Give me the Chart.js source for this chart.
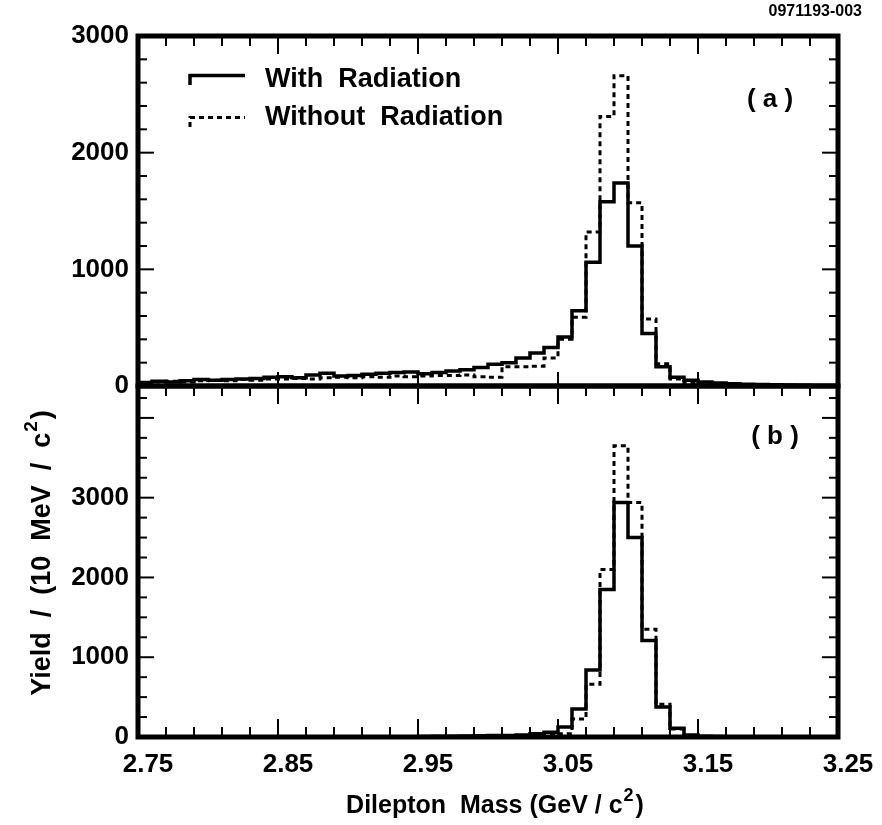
<!DOCTYPE html>
<html>
<head>
<meta charset="utf-8">
<script src="https://cdn.jsdelivr.net/npm/chart.js@4.4.1/dist/chart.umd.min.js"></script>
<style>
  html, body { margin: 0; padding: 0; background: #fff; }
  #wrap { position: relative; width: 882px; height: 825px; }
  #wrap canvas { position: absolute; left: 0; top: 0; }
</style>
</head>
<body>
<div id="wrap">
  <canvas id="panelA" width="882" height="825"></canvas>
  <canvas id="panelB" width="882" height="825"></canvas>
</div>
<script>
// bin lower edges (10 MeV bins), last bin ends at 3.25
const binEdges = [2.75, 2.76, 2.77, 2.78, 2.79, 2.80, 2.81, 2.82, 2.83, 2.84,
                  2.85, 2.86, 2.87, 2.88, 2.89, 2.90, 2.91, 2.92, 2.93, 2.94,
                  2.95, 2.96, 2.97, 2.98, 2.99, 3.00, 3.01, 3.02, 3.03, 3.04,
                  3.05, 3.06, 3.07, 3.08, 3.09, 3.10, 3.11, 3.12, 3.13, 3.14,
                  3.15, 3.16, 3.17, 3.18, 3.19, 3.20, 3.21, 3.22, 3.23, 3.24];
const massEnd = 3.25;
const massLabels = ['2.75', '2.85', '2.95', '3.05', '3.15', '3.25'];

// panel (a)
const withRadA = [30, 40, 35, 45, 55, 50, 55, 60, 65, 75,
                  80, 70, 95, 110, 85, 90, 100, 110, 115, 120,
                  105, 115, 128, 140, 158, 186, 200, 240, 283, 330,
                  420, 645, 1060, 1580, 1740, 1200, 450, 165, 75, 50,
                  35, 25, 20, 15, 12, 10, 8, 6, 5, 5];
const noRadA = [30, 35, 40, 35, 45, 50, 45, 55, 50, 60,
                60, 65, 60, 70, 75, 70, 80, 75, 85, 80,
                85, 90, 90, 95, 80, 75, 165, 165, 170, 240,
                400, 590, 1320, 2310, 2660, 1570, 575, 190, 60, 30,
                20, 15, 10, 8, 5, 5, 3, 2, 2, 2];

// panel (b)
const withRadB = [0, 0, 0, 0, 0, 0, 0, 0, 0, 0,
                  0, 0, 0, 0, 0, 0, 0, 0, 2, 3,
                  5, 8, 10, 12, 15, 18, 20, 25, 40, 60,
                  125, 350, 840, 1850, 2940, 2500, 1210, 375, 110, 25,
                  10, 5, 3, 2, 0, 0, 0, 0, 0, 0];
const noRadB = [0, 0, 0, 0, 0, 0, 0, 0, 0, 0,
                0, 0, 0, 0, 0, 0, 0, 0, 0, 0,
                0, 0, 2, 3, 4, 5, 5, 10, 15, 25,
                40, 225, 660, 2100, 3650, 2940, 1350, 410, 100, 20,
                5, 3, 0, 0, 0, 0, 0, 0, 0, 0];

const yMaxA = 3000, yStepA = 200;
const yMaxB = 4400, yStepB = 250;
const yLabelMax = 3000;

const FONT = '"Liberation Sans", Arial, sans-serif';

// tick positions on the mass axis: every 0.02, labelled every 0.1
const xTickVals = [];
for (let k = 0; k <= 25; k++) xTickVals.push(+(2.75 + 0.02 * k).toFixed(2));

function histPoints(vals) {
  const pts = binEdges.map((e, i) => ({ x: e, y: vals[i] }));
  pts.push({ x: massEnd, y: vals[vals.length - 1] });
  return pts;
}

function supText(ctx, main, sup, tail, cx, cy, size) {
  const supSize = Math.round(size * 0.7);
  ctx.font = 'bold ' + size + 'px ' + FONT;
  const w1 = ctx.measureText(main).width;
  const w3 = ctx.measureText(tail).width;
  ctx.font = 'bold ' + supSize + 'px ' + FONT;
  const w2 = ctx.measureText(sup).width;
  let x = cx - (w1 + w2 + w3 + 3) / 2;
  ctx.textAlign = 'left';
  ctx.textBaseline = 'alphabetic';
  ctx.font = 'bold ' + size + 'px ' + FONT;
  ctx.fillText(main, x, cy);
  x += w1;
  ctx.font = 'bold ' + supSize + 'px ' + FONT;
  ctx.fillText(sup, x + 1, cy - size * 0.5);
  x += w2 + 3;
  ctx.font = 'bold ' + size + 'px ' + FONT;
  ctx.fillText(tail, x, cy);
}

const framePlugin = {
  id: 'frame',
  afterDraw(chart, args, opts) {
    const { ctx, chartArea: { left, right, top, bottom } } = chart;
    const x = chart.scales.x, y = chart.scales.y;
    ctx.save();
    ctx.strokeStyle = '#000';
    ctx.fillStyle = '#000';
    ctx.lineCap = 'butt';
    ctx.lineWidth = 2;
    const seg = (x1, y1, x2, y2) => { ctx.beginPath(); ctx.moveTo(x1, y1); ctx.lineTo(x2, y2); ctx.stroke(); };

    xTickVals.forEach((v, k) => {
      const px = x.getPixelForValue(v);
      const major = k % 5 === 0;
      seg(px, top, px, top + (major ? 18 : 10));
      if (opts.bottomTicks === 'all') seg(px, bottom, px, bottom - (major ? 18 : 10));
      else if (major) seg(px, bottom, px, bottom - 14);
    });
    for (let v = 0; v <= y.max; v += opts.yStep) {
      const py = y.getPixelForValue(v);
      const major = v % 1000 === 0;
      const L = major ? 16 : 9;
      seg(left, py, left + L, py);
      seg(right, py, right - L, py);
    }
    ctx.lineWidth = 5;
    ctx.strokeRect(left, top, right - left, bottom - top);

    // panel tag
    ctx.font = 'bold 26px ' + FONT;
    ctx.textAlign = 'center';
    ctx.textBaseline = 'middle';
    ctx.fillText(opts.tag, opts.tagX, opts.tagY);

    if (opts.legend) {
      ctx.lineWidth = 3.5;
      seg(190, 85, 190, 74);
      seg(189, 75.5, 245, 75.5);
      ctx.lineWidth = 3;
      ctx.setLineDash([5, 4]);
      seg(190, 127, 190, 116);
      seg(190, 117.5, 245, 117.5);
      ctx.setLineDash([]);
      ctx.font = 'bold 27px ' + FONT;
      ctx.textAlign = 'left';
      ctx.fillText('With  Radiation', 265, 80);
      ctx.fillText('Without  Radiation', 265, 118);
      ctx.font = 'bold 16px ' + FONT;
      ctx.textAlign = 'right';
      ctx.fillText('0971193-003', 862, 12);
    }
    if (opts.titles) {
      ctx.fillStyle = '#000';
      supText(ctx, 'Dilepton  Mass (GeV / c', '2', ')', 495, 813, 25);
      ctx.save();
      ctx.translate(50, 553);
      ctx.rotate(-Math.PI / 2);
      supText(ctx, 'Yield  /  (10  MeV  /  c', '2', ')', 0, 0, 27);
      ctx.restore();
    }
    ctx.restore();
  }
};

function makePanel(id, withRad, noRad, yMax, yStep, isBottom, pluginOpts) {
  const yTicks = [];
  for (let v = 0; v <= yMax; v += yStep) yTicks.push(v);
  return new Chart(document.getElementById(id), {
    type: 'line',
    data: {
      datasets: [
        { label: 'With Radiation', data: histPoints(withRad), stepped: 'before',
          borderColor: '#000', borderWidth: 3.5, pointRadius: 0, fill: false },
        { label: 'Without Radiation', data: histPoints(noRad), stepped: 'before',
          borderColor: '#000', borderWidth: 3, borderDash: [5, 4], pointRadius: 0, fill: false }
      ]
    },
    options: {
      responsive: false,
      animation: false,
      devicePixelRatio: 1,
      layout: { padding: { top: isBottom ? 386 : 36, right: 44, bottom: isBottom ? 0 : 439, left: 0 } },
      plugins: { legend: { display: false }, tooltip: { enabled: false }, frame: pluginOpts },
      scales: {
        x: {
          type: 'linear', min: 2.75, max: 3.25, display: isBottom,
          grid: { display: false, drawTicks: false }, border: { display: false },
          afterBuildTicks: s => { s.ticks = xTickVals.map(v => ({ value: v })); },
          afterFit: s => { s.height = isBottom ? 88 : 0; },
          ticks: {
            autoSkip: false, maxRotation: 0, padding: 12, labelOffset: 10, color: '#000',
            font: { family: FONT, size: 26, weight: 'bold' },
            callback: v => { const s = (+v).toFixed(2); return massLabels.includes(s) ? s : ''; }
          }
        },
        y: {
          min: 0, max: yMax,
          grid: { display: false, drawTicks: false }, border: { display: false },
          afterBuildTicks: s => { s.ticks = yTicks.map(v => ({ value: v })); },
          afterFit: s => { s.width = 138; },
          ticks: {
            autoSkip: false, padding: 9, color: '#000',
            font: { family: FONT, size: 26, weight: 'bold' },
            callback: v => (v % 1000 === 0 && v <= yLabelMax ? String(v) : '')
          }
        }
      }
    },
    plugins: [framePlugin]
  });
}

makePanel('panelA', withRadA, noRadA, yMaxA, yStepA, false,
  { yStep: yStepA, bottomTicks: 'major', tag: '( a )', tagX: 770, tagY: 100, legend: true });
makePanel('panelB', withRadB, noRadB, yMaxB, yStepB, true,
  { yStep: yStepB, bottomTicks: 'all', tag: '( b )', tagX: 775, tagY: 437, titles: true });
</script>
</body>
</html>
